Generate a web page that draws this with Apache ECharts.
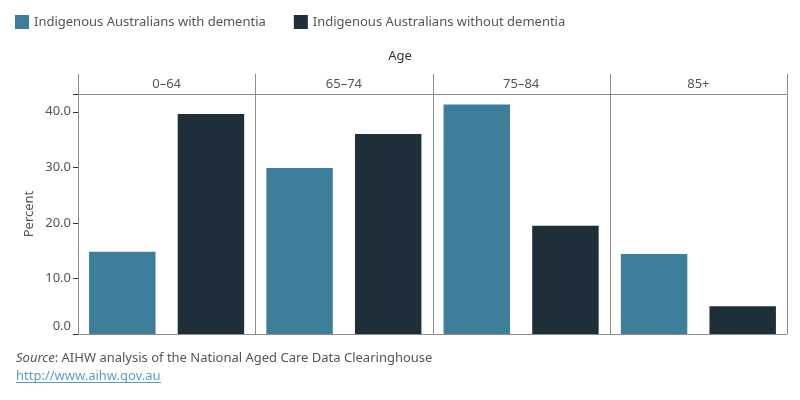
<!DOCTYPE html>
<html>
<head>
<meta charset="utf-8">
<script src="https://cdn.jsdelivr.net/npm/echarts@6/dist/echarts.min.js"></script>
<style>
html,body{margin:0;padding:0;background:#fff;}
#chart{width:800px;height:400px;}
</style>
</head>
<body>
<div id="chart"></div>
<script>
// ---- data ----
var ageGroups = ['0–64', '65–74', '75–84', '85+'];
var seriesNames = ['Indigenous Australians with dementia', 'Indigenous Australians without dementia'];
var withDementia = [14.8, 29.9, 41.3, 14.4];
var withoutDementia = [39.6, 36.0, 19.5, 5.0];
var yTicks = [0, 10, 20, 30, 40];
var facetTitle = 'Age';
var yTitle = 'Percent';
var sourceLabel = 'Source';
var sourceText = ': AIHW analysis of the National Aged Care Data Clearinghouse';
var sourceUrl = 'http://www.aihw.gov.au';

// ---- layout ----
var FONT = '"Noto Sans", sans-serif';
var FS = 13;
var colors = ['#3d7e9a', '#1f2f3a'];
var lineColor = '#8c8c8c';
var textColor = '#555';
var linkColor = '#5a9fc9';
var panelLeft = 78, panelRight = 787, plotTop = 94, plotBottom = 334, headerTop = 74;
var panelW = (panelRight - panelLeft) / ageGroups.length;
var yMax = 43.2;

var grids = [], xAxes = [], yAxes = [], series = [], graphics = [];
ageGroups.forEach(function (age, i) {
  grids.push({left: panelLeft + i * panelW, width: panelW, top: plotTop, bottom: 400 - plotBottom, containLabel: false});
  xAxes.push({
    type: 'category', gridIndex: i, data: seriesNames,
    axisLine: {show: true, lineStyle: {color: lineColor, width: 1}},
    axisTick: {show: false}, axisLabel: {show: false}
  });
  yAxes.push({
    type: 'value', gridIndex: i, min: 0, max: yMax, interval: 10,
    splitLine: {show: false},
    axisLine: {show: i === 0, lineStyle: {color: lineColor}},
    axisTick: {show: i === 0, length: 5, lineStyle: {color: '#333'}},
    axisLabel: {
      show: i === 0, margin: 7, color: textColor, fontSize: FS, fontFamily: FONT,
      formatter: function (v) {
        if (yTicks.indexOf(v) < 0) return '';
        return v === 0 ? '{z|' + v.toFixed(1) + '}' : v.toFixed(1);
      },
      rich: {z: {color: textColor, fontSize: FS, fontFamily: FONT, padding: [0, 0, 16, 0]}}
    },
    name: i === 0 ? yTitle : '', nameLocation: 'middle', nameRotate: 90, nameGap: 42,
    nameTextStyle: {color: textColor, fontSize: FS, fontFamily: FONT}
  });
  series.push({
    name: seriesNames[0], type: 'bar', xAxisIndex: i, yAxisIndex: i,
    data: [withDementia[i], '-'], barWidth: '75%', barGap: '-100%',
    itemStyle: {color: colors[0]}, silent: true
  });
  series.push({
    name: seriesNames[1], type: 'bar', xAxisIndex: i, yAxisIndex: i,
    data: ['-', withoutDementia[i]], barWidth: '75%', barGap: '-100%',
    itemStyle: {color: colors[1]}, silent: true
  });
  graphics.push({
    type: 'text', x: panelLeft + (i + 0.5) * panelW, y: (headerTop + plotTop) / 2,
    style: {text: age, fill: textColor, font: FS + 'px ' + FONT, textAlign: 'center', textVerticalAlign: 'middle'}
  });
});
for (var k = 0; k <= ageGroups.length; k++) {
  var x = Math.round(panelLeft + k * panelW) + 0.5;
  graphics.push({type: 'line', shape: {x1: x, y1: headerTop, x2: x, y2: plotBottom}, style: {stroke: lineColor, lineWidth: 1}});
}
graphics.push({type: 'line', shape: {x1: panelLeft, y1: plotTop + 0.5, x2: panelRight + 1, y2: plotTop + 0.5}, style: {stroke: lineColor, lineWidth: 1}});
graphics.push({type: 'text', x: 400, y: 56, style: {text: facetTitle, fill: '#333', font: FS + 'px ' + FONT, textAlign: 'center', textVerticalAlign: 'middle'}});
graphics.push({type: 'text', x: 16, y: 358, style: {
  text: '{i|' + sourceLabel + '}' + sourceText, fill: textColor, font: FS + 'px ' + FONT, textVerticalAlign: 'middle',
  rich: {i: {fontStyle: 'italic', fontSize: FS, fontFamily: FONT, fill: textColor}}
}});
graphics.push({type: 'text', x: 16, y: 376, style: {text: sourceUrl, fill: linkColor, font: FS + 'px ' + FONT, textVerticalAlign: 'middle'}});
graphics.push({type: 'line', shape: {x1: 16, y1: 382.5, x2: 161, y2: 382.5}, style: {stroke: linkColor, lineWidth: 1}});

var chart = echarts.init(document.getElementById('chart'), null, {renderer: 'canvas'});
chart.setOption({
  animation: false,
  backgroundColor: '#fff',
  legend: {
    data: seriesNames, left: 10, top: 10, icon: 'rect', itemWidth: 14, itemHeight: 14, itemGap: 28,
    textStyle: {color: textColor, fontSize: FS, fontFamily: FONT}, selectedMode: false
  },
  grid: grids, xAxis: xAxes, yAxis: yAxes, series: series, graphic: graphics
});
</script>
</body>
</html>
